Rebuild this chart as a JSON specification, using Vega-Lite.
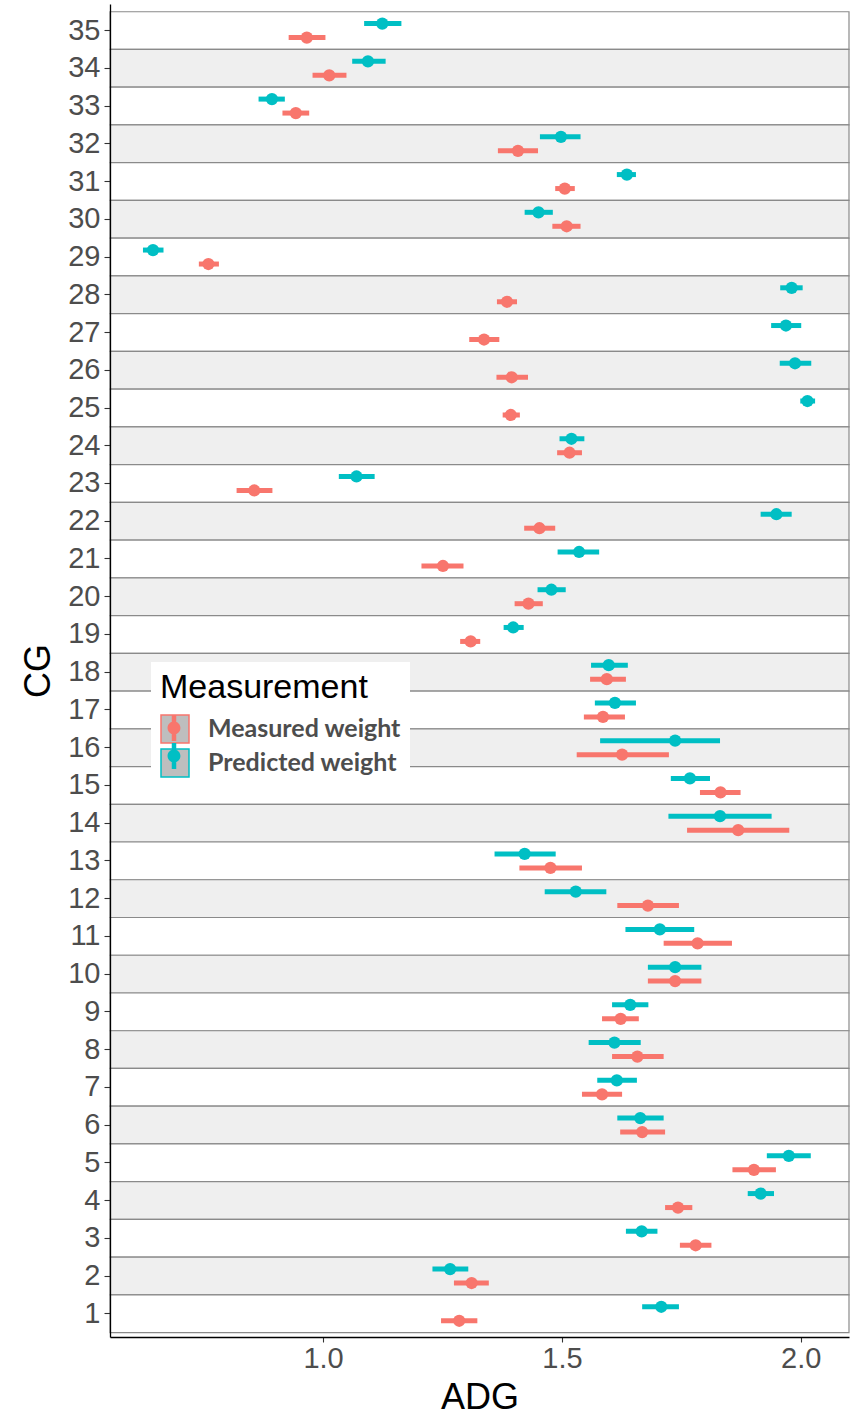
{
  "$schema": "https://vega.github.io/schema/vega-lite/v6.json",
  "width": 739,
  "height": 1333,
  "autosize": "none",
  "padding": {"left": 110, "top": 4, "right": 2, "bottom": 79},
  "background": "white",
  "config": {"view": {"stroke": null}, "font": "Liberation Sans"},
  "data": {"values": [
    {"CG": 35, "Measurement": "Predicted weight", "ADG": 1.124, "lo": 1.086, "hi": 1.164},
    {"CG": 35, "Measurement": "Measured weight", "ADG": 0.966, "lo": 0.928, "hi": 1.005},
    {"CG": 34, "Measurement": "Predicted weight", "ADG": 1.094, "lo": 1.061, "hi": 1.131},
    {"CG": 34, "Measurement": "Measured weight", "ADG": 1.013, "lo": 0.978, "hi": 1.049},
    {"CG": 33, "Measurement": "Predicted weight", "ADG": 0.893, "lo": 0.865, "hi": 0.920},
    {"CG": 33, "Measurement": "Measured weight", "ADG": 0.943, "lo": 0.915, "hi": 0.971},
    {"CG": 32, "Measurement": "Predicted weight", "ADG": 1.498, "lo": 1.454, "hi": 1.539},
    {"CG": 32, "Measurement": "Measured weight", "ADG": 1.408, "lo": 1.366, "hi": 1.450},
    {"CG": 31, "Measurement": "Predicted weight", "ADG": 1.636, "lo": 1.615, "hi": 1.655},
    {"CG": 31, "Measurement": "Measured weight", "ADG": 1.506, "lo": 1.486, "hi": 1.527},
    {"CG": 30, "Measurement": "Predicted weight", "ADG": 1.451, "lo": 1.422, "hi": 1.481},
    {"CG": 30, "Measurement": "Measured weight", "ADG": 1.510, "lo": 1.480, "hi": 1.539},
    {"CG": 29, "Measurement": "Predicted weight", "ADG": 0.644, "lo": 0.623, "hi": 0.666},
    {"CG": 29, "Measurement": "Measured weight", "ADG": 0.760, "lo": 0.740, "hi": 0.782},
    {"CG": 28, "Measurement": "Predicted weight", "ADG": 1.981, "lo": 1.957, "hi": 2.004},
    {"CG": 28, "Measurement": "Measured weight", "ADG": 1.385, "lo": 1.364, "hi": 1.406},
    {"CG": 27, "Measurement": "Predicted weight", "ADG": 1.969, "lo": 1.938, "hi": 2.001},
    {"CG": 27, "Measurement": "Measured weight", "ADG": 1.337, "lo": 1.306, "hi": 1.369},
    {"CG": 26, "Measurement": "Predicted weight", "ADG": 1.988, "lo": 1.956, "hi": 2.022},
    {"CG": 26, "Measurement": "Measured weight", "ADG": 1.395, "lo": 1.363, "hi": 1.429},
    {"CG": 25, "Measurement": "Predicted weight", "ADG": 2.014, "lo": 1.999, "hi": 2.030},
    {"CG": 25, "Measurement": "Measured weight", "ADG": 1.393, "lo": 1.376, "hi": 1.412},
    {"CG": 24, "Measurement": "Predicted weight", "ADG": 1.520, "lo": 1.495, "hi": 1.547},
    {"CG": 24, "Measurement": "Measured weight", "ADG": 1.516, "lo": 1.490, "hi": 1.542},
    {"CG": 23, "Measurement": "Predicted weight", "ADG": 1.070, "lo": 1.033, "hi": 1.108},
    {"CG": 23, "Measurement": "Measured weight", "ADG": 0.856, "lo": 0.819, "hi": 0.894},
    {"CG": 22, "Measurement": "Predicted weight", "ADG": 1.949, "lo": 1.916, "hi": 1.981},
    {"CG": 22, "Measurement": "Measured weight", "ADG": 1.453, "lo": 1.421, "hi": 1.486},
    {"CG": 21, "Measurement": "Predicted weight", "ADG": 1.536, "lo": 1.491, "hi": 1.578},
    {"CG": 21, "Measurement": "Measured weight", "ADG": 1.251, "lo": 1.206, "hi": 1.294},
    {"CG": 20, "Measurement": "Predicted weight", "ADG": 1.478, "lo": 1.449, "hi": 1.508},
    {"CG": 20, "Measurement": "Measured weight", "ADG": 1.430, "lo": 1.401, "hi": 1.460},
    {"CG": 19, "Measurement": "Predicted weight", "ADG": 1.398, "lo": 1.378, "hi": 1.420},
    {"CG": 19, "Measurement": "Measured weight", "ADG": 1.309, "lo": 1.287, "hi": 1.329},
    {"CG": 18, "Measurement": "Predicted weight", "ADG": 1.598, "lo": 1.561, "hi": 1.638},
    {"CG": 18, "Measurement": "Measured weight", "ADG": 1.594, "lo": 1.559, "hi": 1.634},
    {"CG": 17, "Measurement": "Predicted weight", "ADG": 1.611, "lo": 1.569, "hi": 1.655},
    {"CG": 17, "Measurement": "Measured weight", "ADG": 1.586, "lo": 1.546, "hi": 1.632},
    {"CG": 16, "Measurement": "Predicted weight", "ADG": 1.737, "lo": 1.580, "hi": 1.831},
    {"CG": 16, "Measurement": "Measured weight", "ADG": 1.626, "lo": 1.531, "hi": 1.724},
    {"CG": 15, "Measurement": "Predicted weight", "ADG": 1.768, "lo": 1.728, "hi": 1.810},
    {"CG": 15, "Measurement": "Measured weight", "ADG": 1.832, "lo": 1.789, "hi": 1.874},
    {"CG": 14, "Measurement": "Predicted weight", "ADG": 1.831, "lo": 1.723, "hi": 1.939},
    {"CG": 14, "Measurement": "Measured weight", "ADG": 1.869, "lo": 1.762, "hi": 1.976},
    {"CG": 13, "Measurement": "Predicted weight", "ADG": 1.422, "lo": 1.359, "hi": 1.487},
    {"CG": 13, "Measurement": "Measured weight", "ADG": 1.476, "lo": 1.411, "hi": 1.542},
    {"CG": 12, "Measurement": "Predicted weight", "ADG": 1.529, "lo": 1.464, "hi": 1.593},
    {"CG": 12, "Measurement": "Measured weight", "ADG": 1.680, "lo": 1.616, "hi": 1.745},
    {"CG": 11, "Measurement": "Predicted weight", "ADG": 1.705, "lo": 1.633, "hi": 1.777},
    {"CG": 11, "Measurement": "Measured weight", "ADG": 1.784, "lo": 1.713, "hi": 1.856},
    {"CG": 10, "Measurement": "Predicted weight", "ADG": 1.737, "lo": 1.680, "hi": 1.792},
    {"CG": 10, "Measurement": "Measured weight", "ADG": 1.737, "lo": 1.680, "hi": 1.792},
    {"CG": 9, "Measurement": "Predicted weight", "ADG": 1.643, "lo": 1.605, "hi": 1.681},
    {"CG": 9, "Measurement": "Measured weight", "ADG": 1.623, "lo": 1.584, "hi": 1.661},
    {"CG": 8, "Measurement": "Predicted weight", "ADG": 1.610, "lo": 1.556, "hi": 1.665},
    {"CG": 8, "Measurement": "Measured weight", "ADG": 1.658, "lo": 1.605, "hi": 1.713},
    {"CG": 7, "Measurement": "Predicted weight", "ADG": 1.615, "lo": 1.574, "hi": 1.657},
    {"CG": 7, "Measurement": "Measured weight", "ADG": 1.584, "lo": 1.542, "hi": 1.626},
    {"CG": 6, "Measurement": "Predicted weight", "ADG": 1.664, "lo": 1.616, "hi": 1.713},
    {"CG": 6, "Measurement": "Measured weight", "ADG": 1.668, "lo": 1.622, "hi": 1.716},
    {"CG": 5, "Measurement": "Predicted weight", "ADG": 1.975, "lo": 1.929, "hi": 2.021},
    {"CG": 5, "Measurement": "Measured weight", "ADG": 1.902, "lo": 1.857, "hi": 1.948},
    {"CG": 4, "Measurement": "Predicted weight", "ADG": 1.916, "lo": 1.889, "hi": 1.944},
    {"CG": 4, "Measurement": "Measured weight", "ADG": 1.743, "lo": 1.716, "hi": 1.773},
    {"CG": 3, "Measurement": "Predicted weight", "ADG": 1.667, "lo": 1.634, "hi": 1.700},
    {"CG": 3, "Measurement": "Measured weight", "ADG": 1.780, "lo": 1.747, "hi": 1.813},
    {"CG": 2, "Measurement": "Predicted weight", "ADG": 1.266, "lo": 1.229, "hi": 1.304},
    {"CG": 2, "Measurement": "Measured weight", "ADG": 1.311, "lo": 1.274, "hi": 1.347},
    {"CG": 1, "Measurement": "Predicted weight", "ADG": 1.708, "lo": 1.668, "hi": 1.745},
    {"CG": 1, "Measurement": "Measured weight", "ADG": 1.285, "lo": 1.247, "hi": 1.323}
  ]},
  "encoding": {
    "y": {
      "field": "CG", "type": "ordinal", "sort": "descending",
      "scale": {"paddingInner": 0, "paddingOuter": 0.16, "align": 0.64},
      "axis": {
        "title": "CG", "grid": false,
        "domainColor": "#000000", "domainWidth": 1.3,
        "tickColor": "#333333", "tickSize": 6, "tickWidth": 1.1,
        "labelFont": "Liberation Sans", "labelFontSize": 29, "labelColor": "#4D4D4D", "labelPadding": 4,
        "titleFont": "Liberation Sans", "titleFontSize": 36, "titleFontWeight": "normal", "titleColor": "#000000", "titlePadding": 10
      }
    }
  },
  "layer": [
    {
      "transform": [{"aggregate": [{"op": "count", "as": "n"}], "groupby": ["CG"]}],
      "mark": {"type": "rect", "stroke": "#8a8a8a", "strokeWidth": 1.2},
      "encoding": {
        "fill": {"condition": {"test": "datum.CG % 2 === 0", "value": "#EFEFEF"}, "value": "#FFFFFF"}
      }
    },
    {
      "mark": {"type": "rule", "strokeWidth": 5},
      "encoding": {
        "x": {
          "field": "lo", "type": "quantitative", "title": "ADG",
          "scale": {"domain": [0.554, 2.101], "nice": false, "zero": false},
          "axis": {
            "title": "ADG", "values": [1.0, 1.5, 2.0], "format": ".1f", "grid": false,
            "domainColor": "#000000", "domainWidth": 1.3,
            "tickColor": "#333333", "tickSize": 5, "tickWidth": 1.1,
            "labelFont": "Liberation Sans", "labelFontSize": 29, "labelColor": "#4D4D4D", "labelPadding": 2,
            "titleFont": "Liberation Sans", "titleFontSize": 36, "titleFontWeight": "normal", "titleColor": "#000000", "titlePadding": 7
          }
        },
        "x2": {"field": "hi"},
        "yOffset": {
          "field": "Measurement", "type": "nominal",
          "scale": {"domain": ["Predicted weight", "Measured weight"], "paddingInner": 0, "paddingOuter": 0.35}
        },
        "stroke": {
          "field": "Measurement", "type": "nominal",
          "scale": {"range": ["#F8766D", "#00BFC4"]},
          "legend": {
            "title": "Measurement", "orient": "none", "legendX": 41, "legendY": 658,
            "padding": 9, "fillColor": "#FFFFFF",
            "symbolType": "square", "symbolSize": 784, "symbolStrokeWidth": 1.5, "symbolFillColor": "#BEBEBE",
            "titleFont": "Liberation Sans", "titleFontSize": 34, "titleFontWeight": "normal", "titleColor": "#000000", "titlePadding": 9, "titleLimit": 500,
            "labelFont": "Lato", "labelFontSize": 25, "labelFontWeight": "bold", "labelColor": "#4D4D4D", "labelOffset": 18, "labelLimit": 500,
            "rowPadding": 0, "zindex": 0,
            "encode": {"symbols": {"update": {"fill": {"value": "#BEBEBE"}, "strokeWidth": {"value": 1.5}}}}
          }
        }
      }
    },
    {
      "mark": {"type": "point", "filled": true, "size": 150, "opacity": 1},
      "encoding": {
        "x": {"field": "ADG", "type": "quantitative", "title": "ADG"},
        "yOffset": {"field": "Measurement", "type": "nominal"},
        "fill": {
          "field": "Measurement", "type": "nominal",
          "scale": {"domain": ["Measured weight", "Predicted weight"], "range": ["#F8766D", "#00BFC4"]},
          "legend": {
            "title": null, "orient": "none", "legendX": 41, "legendY": 701,
            "padding": 9,
            "symbolType": "M-0.16,-0.93L0.16,-0.93L0.16,0.93L-0.16,0.93Z M0.46,0 A0.46,0.46 0 1,1 -0.46,0 A0.46,0.46 0 1,1 0.46,0 Z",
            "symbolSize": 784, "symbolStrokeWidth": 0,
            "labelExpr": "''", "labelFont": "Lato", "labelFontSize": 25, "labelOffset": 18,
            "rowPadding": 0, "zindex": 1
          }
        }
      }
    }
  ]
}
